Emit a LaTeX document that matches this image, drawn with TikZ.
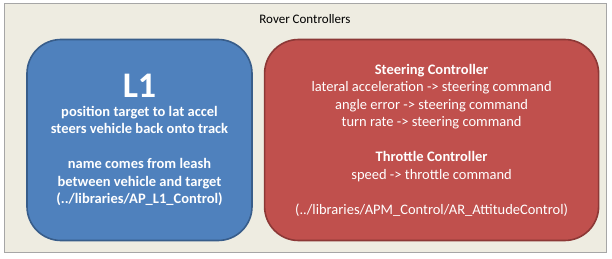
\documentclass[tikz,border=0pt]{standalone}
\usepackage{fontspec}
\setmainfont{Carlito}
\usetikzlibrary{positioning}

\definecolor{panelbg}{HTML}{EEECE1}
\definecolor{panelline}{HTML}{A6A6A6}
\definecolor{bluefill}{HTML}{4F81BD}
\definecolor{blueline}{HTML}{385D8A}
\definecolor{redfill}{HTML}{C0504D}
\definecolor{redline}{HTML}{8C3836}

\begin{document}
\begin{tikzpicture}[
    x=1pt, y=-1pt,
    node distance=11pt,
    panel/.style={draw=panelline, line width=1pt, fill=panelbg, minimum width=602pt, minimum height=248pt},
    ctrl/.style={line width=1.6pt, rounded corners=34pt, align=center, text=white, minimum height=201pt, inner sep=0pt,
        font=\fontsize{14.5}{17.5}\selectfont}
]
    \useasboundingbox (0,0) rectangle (612,259);

    % --- OUTER PANEL ---
    \node[panel] (rover) at (305,128) {};
    \node[font=\fontsize{13}{15}\selectfont] (title) at (305,19) {Rover Controllers};

    % --- CONTROLLER BOXES ---
    \node[ctrl, draw=blueline, fill=bluefill, minimum width=225pt, font=\bfseries\fontsize{14.5}{17.5}\selectfont] (l1) at (139.5,140)
        {{\fontsize{36}{36}\selectfont L1}\\[1pt]
         position target to lat accel\\
         steers vehicle back onto track\\[17.5pt]
         name comes from leash\\
         between vehicle and target\\
         (../libraries/AP\_L1\_Control)};

    \node[ctrl, draw=redline, fill=redfill, minimum width=334pt, right=11pt of l1] (attitude)
        {\textbf{Steering Controller}\\
         lateral acceleration -> steering command\\
         angle error -> steering command\\
         turn rate -> steering command\\[17.5pt]
         \textbf{Throttle Controller}\\
         speed -> throttle command\\[17.5pt]
         (../libraries/APM\_Control/AR\_AttitudeControl)};

\end{tikzpicture}
\end{document}
